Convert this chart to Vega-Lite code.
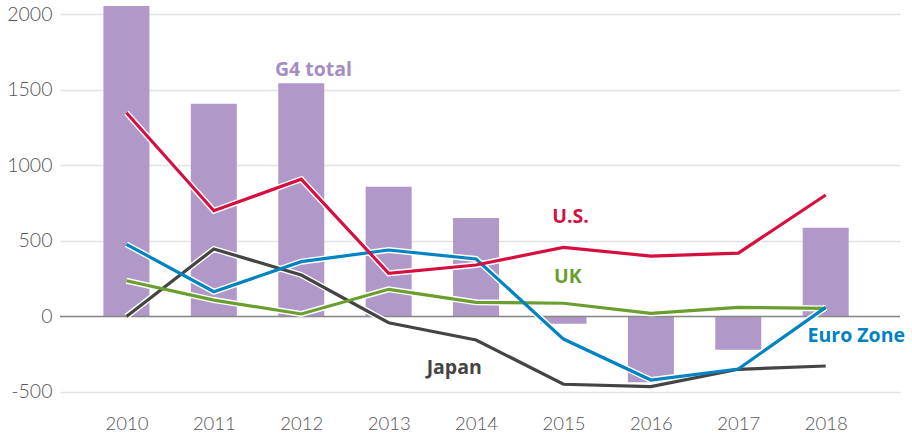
{
  "$schema": "https://vega.github.io/schema/vega-lite/v6.json",
  "autosize": "none",
  "width": 840,
  "height": 408,
  "padding": {"left": 60, "top": 0, "right": 12, "bottom": 27},
  "background": "white",
  "config": {"view": {"stroke": null}, "font": "Lato"},
  "datasets": {
    "bars": [
      {"year": 2010, "value": 2053},
      {"year": 2011, "value": 1407},
      {"year": 2012, "value": 1542},
      {"year": 2013, "value": 858},
      {"year": 2014, "value": 651},
      {"year": 2015, "value": -48},
      {"year": 2016, "value": -436},
      {"year": 2017, "value": -220},
      {"year": 2018, "value": 587}
    ],
    "lines": [
      {"series": "Japan", "year": 2010, "value": 0},
      {"series": "Japan", "year": 2011, "value": 446},
      {"series": "Japan", "year": 2012, "value": 274},
      {"series": "Japan", "year": 2013, "value": -42},
      {"series": "Japan", "year": 2014, "value": -156},
      {"series": "Japan", "year": 2015, "value": -449},
      {"series": "Japan", "year": 2016, "value": -465},
      {"series": "Japan", "year": 2017, "value": -350},
      {"series": "Japan", "year": 2018, "value": -328},
      {"series": "UK", "year": 2010, "value": 236},
      {"series": "UK", "year": 2011, "value": 108},
      {"series": "UK", "year": 2012, "value": 16},
      {"series": "UK", "year": 2013, "value": 179},
      {"series": "UK", "year": 2014, "value": 93},
      {"series": "UK", "year": 2015, "value": 87},
      {"series": "UK", "year": 2016, "value": 20},
      {"series": "UK", "year": 2017, "value": 60},
      {"series": "UK", "year": 2018, "value": 53},
      {"series": "Euro Zone", "year": 2010, "value": 477},
      {"series": "Euro Zone", "year": 2011, "value": 163},
      {"series": "Euro Zone", "year": 2012, "value": 362},
      {"series": "Euro Zone", "year": 2013, "value": 439},
      {"series": "Euro Zone", "year": 2014, "value": 380},
      {"series": "Euro Zone", "year": 2015, "value": -150},
      {"series": "Euro Zone", "year": 2016, "value": -421},
      {"series": "Euro Zone", "year": 2017, "value": -348},
      {"series": "Euro Zone", "year": 2018, "value": 60},
      {"series": "U.S.", "year": 2010, "value": 1347},
      {"series": "U.S.", "year": 2011, "value": 699},
      {"series": "U.S.", "year": 2012, "value": 908},
      {"series": "U.S.", "year": 2013, "value": 285},
      {"series": "U.S.", "year": 2014, "value": 340},
      {"series": "U.S.", "year": 2015, "value": 457},
      {"series": "U.S.", "year": 2016, "value": 399},
      {"series": "U.S.", "year": 2017, "value": 419},
      {"series": "U.S.", "year": 2018, "value": 803}
    ],
    "labels": [
      {"text": "G4 total", "year": 2012.14, "value": 1630, "series": "G4 total"},
      {"text": "U.S.", "year": 2015.08, "value": 659, "series": "U.S."},
      {"text": "UK", "year": 2015.05, "value": 260, "series": "UK"},
      {"text": "Japan", "year": 2013.75, "value": -341, "series": "Japan"},
      {"text": "Euro Zone", "year": 2018.35, "value": -128, "series": "Euro Zone"}
    ]
  },
  "encoding": {
    "x": {
      "field": "year", "type": "quantitative",
      "scale": {"domain": [2009.24, 2018.85], "nice": false, "zero": false, "padding": 0},
      "axis": {
        "values": [2010, 2011, 2012, 2013, 2014, 2015, 2016, 2017, 2018],
        "format": "d", "title": null, "grid": false, "domain": false, "ticks": false,
        "labelFontSize": 18.5, "labelColor": "#555555", "labelFontWeight": 300,
        "labelPadding": 6, "labelFont": "Lato"
      }
    },
    "y": {
      "field": "value", "type": "quantitative",
      "scale": {"domain": [-606, 2093], "nice": false, "zero": false, "padding": 0},
      "axis": {
        "values": [-500, 0, 500, 1000, 1500, 2000],
        "labelExpr": "'' + datum.value",
        "title": null, "domain": false, "ticks": false,
        "grid": true, "gridColor": "#e2e2e2", "gridWidth": 1.5,
        "labelFontSize": 19.5, "labelColor": "#555555", "labelFontWeight": 300,
        "labelPadding": 8, "labelFont": "Lato"
      }
    }
  },
  "layer": [
    {
      "data": {"name": "bars"},
      "mark": {"type": "bar", "size": 46, "color": "#b098c8", "opacity": 1},
      "encoding": {"y2": {"datum": 0}}
    },
    {
      "data": {"values": [{"v": 0}]},
      "mark": {"type": "rule", "color": "#888888", "strokeWidth": 1.5},
      "encoding": {"y": {"field": "v", "type": "quantitative"}, "x": null}
    },
    {
      "data": {"name": "lines"},
      "mark": {"type": "line", "stroke": "white", "strokeWidth": 6, "strokeJoin": "miter"},
      "encoding": {"detail": {"field": "series"}}
    },
    {
      "data": {"name": "lines"},
      "mark": {"type": "line", "strokeWidth": 3.2, "strokeJoin": "miter"},
      "encoding": {
        "color": {
          "field": "series", "type": "nominal", "legend": null,
          "scale": {
            "domain": ["Japan", "UK", "Euro Zone", "U.S.", "G4 total"],
            "range": ["#444444", "#6a9e2f", "#0083c1", "#d5103f", "#a58dc3"]
          }
        }
      }
    },
    {
      "data": {"name": "labels"},
      "mark": {"type": "text", "fontSize": 19.5, "fontWeight": "bold", "font": "Open Sans", "align": "center", "baseline": "middle"},
      "encoding": {
        "text": {"field": "text"},
        "color": {"field": "series", "type": "nominal", "legend": null}
      }
    }
  ]
}
